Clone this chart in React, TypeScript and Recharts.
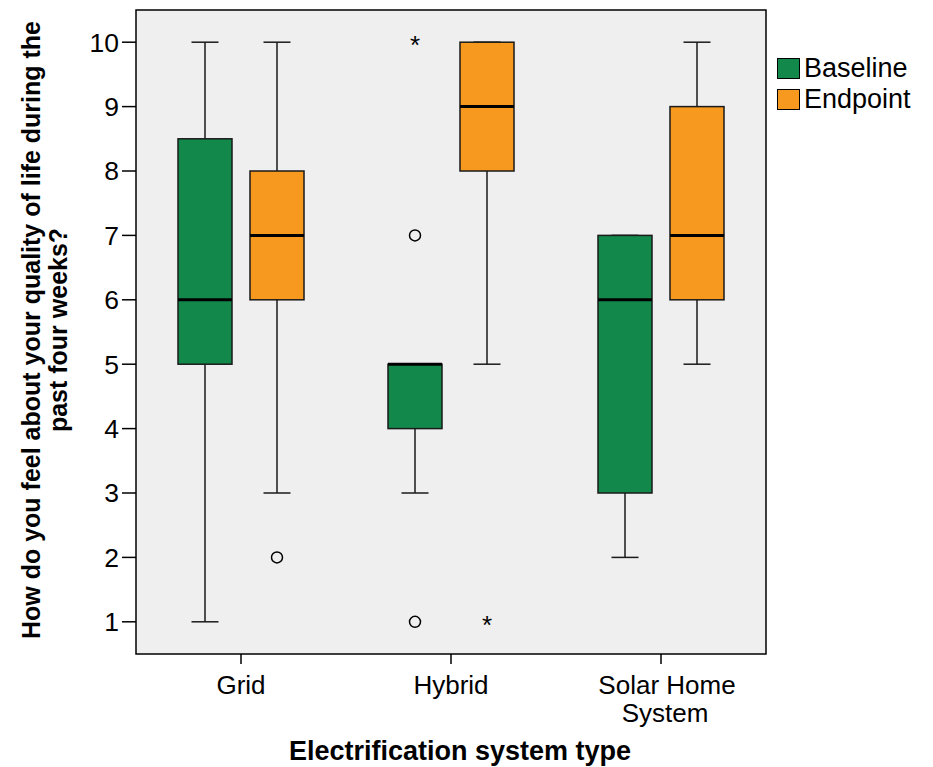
import { Bar, ComposedChart, Legend, ReferenceArea, XAxis, YAxis } from "recharts";

const CATEGORIES = ["Grid", "Hybrid", "Solar Home System"];

// Baseline box stats per category
const BASELINE_MIN = [1, 3, 2];
const BASELINE_Q1 = [5, 4, 3];
const BASELINE_MEDIAN = [6, 5, 6];
const BASELINE_Q3 = [8.5, 5, 7];
const BASELINE_MAX = [10, 5, 7];
const BASELINE_OUTLIERS = [[], [7, 1], []];
const BASELINE_EXTREMES = [[], [10], []];

// Endpoint box stats per category
const ENDPOINT_MIN = [3, 5, 5];
const ENDPOINT_Q1 = [6, 8, 6];
const ENDPOINT_MEDIAN = [7, 9, 7];
const ENDPOINT_Q3 = [8, 10, 9];
const ENDPOINT_MAX = [10, 10, 10];
const ENDPOINT_OUTLIERS = [[2], [], []];
const ENDPOINT_EXTREMES = [[], [1], []];

const Y_TICKS = [1, 2, 3, 4, 5, 6, 7, 8, 9, 10];

const GREEN = "#12894a";
const ORANGE = "#f7991f";
const PLOT_BG = "#efefef";
const FONT = "'Liberation Sans', Arial, sans-serif";

interface BoxStats {
  min: number;
  q1: number;
  median: number;
  q3: number;
  max: number;
  outliers: number[];
  extremes: number[];
}

function span(s: BoxStats): [number, number] {
  const all = [s.min, s.max, ...s.outliers, ...s.extremes];
  return [Math.min(...all), Math.max(...all)];
}

const data = CATEGORIES.map((name, i) => {
  const baseline: BoxStats = {
    min: BASELINE_MIN[i],
    q1: BASELINE_Q1[i],
    median: BASELINE_MEDIAN[i],
    q3: BASELINE_Q3[i],
    max: BASELINE_MAX[i],
    outliers: BASELINE_OUTLIERS[i],
    extremes: BASELINE_EXTREMES[i],
  };
  const endpoint: BoxStats = {
    min: ENDPOINT_MIN[i],
    q1: ENDPOINT_Q1[i],
    median: ENDPOINT_MEDIAN[i],
    q3: ENDPOINT_Q3[i],
    max: ENDPOINT_MAX[i],
    outliers: ENDPOINT_OUTLIERS[i],
    extremes: ENDPOINT_EXTREMES[i],
  };
  return {
    name,
    baseline,
    endpoint,
    baselineRange: span(baseline),
    endpointRange: span(endpoint),
  };
});

// the bar spans the full value range of a group, so its pixel box gives the scale
const makeBoxShape = (key: "baseline" | "endpoint") => (props: any) => {
  const { x, y, width, height, payload, fill } = props;
  const s: BoxStats = payload[key];
  const [lo, hi] = payload[`${key}Range`];
  const top = Math.min(y, y + height);
  const ppu = Math.abs(height) / (hi - lo);
  const py = (v: number) => top + (hi - v) * ppu;
  const cx = x + width / 2;
  const cap = width / 4;
  const line = "#1a1a1a";

  return (
    <g>
      <line x1={cx} x2={cx} y1={py(s.max)} y2={py(s.q3)} stroke={line} strokeWidth={1.5} />
      <line x1={cx} x2={cx} y1={py(s.q1)} y2={py(s.min)} stroke={line} strokeWidth={1.5} />
      <line x1={cx - cap} x2={cx + cap} y1={py(s.max)} y2={py(s.max)} stroke={line} strokeWidth={1.5} />
      <line x1={cx - cap} x2={cx + cap} y1={py(s.min)} y2={py(s.min)} stroke={line} strokeWidth={1.5} />
      <rect
        x={x}
        y={py(s.q3)}
        width={width}
        height={py(s.q1) - py(s.q3)}
        fill={fill}
        stroke={line}
        strokeWidth={1.5}
      />
      <line x1={x} x2={x + width} y1={py(s.median)} y2={py(s.median)} stroke="#000" strokeWidth={3} />
      {s.outliers.map((v, i) => (
        <circle key={`o${i}`} cx={cx} cy={py(v)} r={5.5} fill="none" stroke="#000" strokeWidth={1.5} />
      ))}
      {s.extremes.map((v, i) => (
        <text
          key={`e${i}`}
          x={cx}
          y={py(v) + 12}
          textAnchor="middle"
          fontSize={26}
          fontFamily={FONT}
          fill="#000"
        >
          *
        </text>
      ))}
    </g>
  );
};

// greedy word wrap, about 12 characters per line
function wrapLabel(label: string, maxChars = 12): string[] {
  const lines: string[] = [];
  let cur = "";
  for (const word of label.split(" ")) {
    const next = cur ? `${cur} ${word}` : word;
    if (next.length > maxChars && cur) {
      lines.push(cur);
      cur = word;
    } else {
      cur = next;
    }
  }
  if (cur) lines.push(cur);
  return lines;
}

const CategoryTick = (props: any) => {
  const { x, y, payload } = props;
  const lines = wrapLabel(String(payload.value));
  return (
    <text x={x} y={y} textAnchor="middle" fontSize={26} fontFamily={FONT} fill="#000">
      {lines.map((l, i) => (
        <tspan key={i} x={x + (i > 0 ? 4 : 6) * (lines.length > 1 ? 1 : 0)} y={y + 18 + i * 28}>
          {l}
        </tspan>
      ))}
    </text>
  );
};

const YTitle = (props: any) => {
  const { viewBox } = props;
  const cy = viewBox.y + viewBox.height / 2 - 2;
  return (
    <text
      transform={`translate(${viewBox.x}, ${cy}) rotate(-90)`}
      textAnchor="middle"
      fontSize={25}
      fontWeight="bold"
      fontFamily={FONT}
      fill="#000"
    >
      <tspan x={0} y={40}>
        How do you feel about your quality of life during the
      </tspan>
      <tspan x={0} y={67}>
        past four weeks?
      </tspan>
    </text>
  );
};

const XTitle = (props: any) => {
  const { viewBox } = props;
  return (
    <text
      x={viewBox.x + viewBox.width / 2 + 9}
      y={viewBox.y + 106}
      textAnchor="middle"
      fontSize={27}
      fontWeight="bold"
      fontFamily={FONT}
      fill="#000"
    >
      Electrification system type
    </text>
  );
};

const renderLegend = (props: any) => (
  <div style={{ fontFamily: FONT, fontSize: 27, color: "#000" }}>
    {(props.payload || []).map((entry: any) => (
      <div key={entry.value} style={{ display: "flex", alignItems: "center", height: 31 }}>
        <span
          style={{
            display: "inline-block",
            boxSizing: "border-box",
            width: 23,
            height: 21,
            background: entry.color,
            border: "1.5px solid #000",
            marginRight: 4,
          }}
        />
        {entry.value}
      </div>
    ))}
  </div>
);

export default function App() {
  return (
    <div style={{ position: "absolute", left: 0, top: 0, background: "#fff" }}>
      <ComposedChart
        width={933}
        height={767}
        data={data}
        margin={{ top: 10, right: 167, bottom: 0, left: 0 }}
        barGap={18}
      >
        <ReferenceArea
          y1={0.5}
          y2={10.5}
          fill={PLOT_BG}
          fillOpacity={1}
          stroke="#000"
          strokeWidth={1.5}
          ifOverflow="visible"
        />
        <XAxis
          dataKey="name"
          height={113}
          axisLine={false}
          tickLine={{ stroke: "#000", strokeWidth: 1.5 }}
          tickSize={10}
          tickMargin={12}
          tick={<CategoryTick />}
          interval={0}
          label={<XTitle />}
        />
        <YAxis
          type="number"
          domain={[0.5, 10.5]}
          ticks={Y_TICKS}
          width={136}
          axisLine={false}
          tickLine={{ stroke: "#000", strokeWidth: 1.5 }}
          tickSize={14}
          tickMargin={3}
          tick={{ fontSize: 26.5, fill: "#000", fontFamily: FONT }}
          allowDataOverflow
          label={<YTitle />}
        />
        <Legend
          layout="vertical"
          align="center"
          verticalAlign="middle"
          wrapperStyle={{ left: 777, top: 53, width: 156 }}
          content={renderLegend}
        />
        <Bar
          dataKey="baselineRange"
          name="Baseline"
          fill={GREEN}
          barSize={54}
          shape={makeBoxShape("baseline")}
          isAnimationActive={false}
        />
        <Bar
          dataKey="endpointRange"
          name="Endpoint"
          fill={ORANGE}
          barSize={54}
          shape={makeBoxShape("endpoint")}
          isAnimationActive={false}
        />
      </ComposedChart>
    </div>
  );
}
